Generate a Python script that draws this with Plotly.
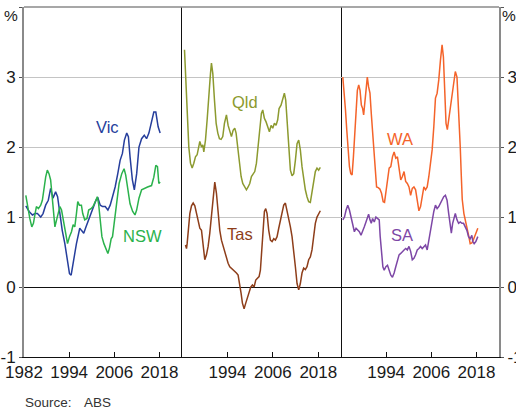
import plotly.graph_objects as go

# ---------------- data (annual growth, %) ----------------
vic_years = [1982.48,1983.36,1984.24,1984.95,1985.56,1986.44,1987.06,1987.76,1988.46,1989.08,
             1989.70,1990.40,1990.93,1991.46,1992.16,1992.86,1993.48,1994.09,1994.53,1994.97,
             1995.50,1995.94,1996.38,1996.82,1997.26,1997.88,1998.49,1999.19,1999.90,2000.51,
             2001.13,2001.66,2002.27,2002.89,2003.59,2004.30,2004.91,2005.53,2006.23,2006.93,
             2007.55,2008.16,2008.69,2009.31,2009.75,2010.19,2010.81,2011.33,2011.95,2012.56,
             2013.26,2013.97,2014.58,2015.20,2015.90,2016.51,2017.04,2017.66,2018.19]
vic_vals = [1.16,1.08,1.03,1.05,1.05,1.0,1.05,1.17,1.24,1.41,
            1.27,1.36,1.29,1.05,0.81,0.62,0.39,0.19,0.17,0.29,
            0.48,0.62,0.72,0.84,0.81,0.77,0.86,0.96,1.05,1.15,
            1.24,1.27,1.17,1.15,1.15,1.10,1.17,1.29,1.43,1.62,
            1.81,1.91,2.10,2.20,2.15,1.86,1.53,1.39,1.62,2.0,
            2.12,2.17,2.12,2.20,2.34,2.50,2.50,2.29,2.20]

nsw_years = [1982.48,1982.92,1983.54,1984.07,1984.51,1984.95,1985.30,1985.83,1986.44,1986.88,
             1987.32,1987.76,1988.20,1988.64,1989.08,1989.52,1989.96,1990.22,1990.66,1991.10,
             1991.54,1991.98,1992.60,1993.04,1993.57,1994.09,1994.62,1995.06,1995.50,1995.94,
             1996.29,1996.73,1997.26,1997.61,1998.14,1998.75,1999.19,1999.81,2000.34,2000.95,
             2001.48,2001.83,2002.27,2002.71,2003.24,2003.77,2004.30,2004.73,2005.17,2005.53,
             2006.05,2006.67,2007.28,2007.99,2008.60,2009.04,2009.57,2010.19,2010.89,2011.50,
             2011.94,2012.56,2013.26,2013.96,2014.84,2015.90,2016.51,2017.04,2017.48,2017.84,2018.19]
nsw_vals = [1.31,1.15,0.98,0.86,0.91,1.05,1.15,1.12,1.17,1.24,
            1.43,1.57,1.67,1.62,1.53,1.29,1.0,0.86,0.96,1.08,
            1.15,1.10,0.91,0.77,0.62,0.72,0.79,0.89,0.86,1.05,
            1.22,1.17,1.17,1.05,0.96,0.98,1.10,1.12,1.15,1.22,
            1.29,1.19,0.96,0.72,0.62,0.56,0.48,0.56,0.69,0.72,
            0.96,1.24,1.48,1.62,1.69,1.60,1.39,1.19,1.08,1.03,
            1.10,1.27,1.39,1.41,1.43,1.45,1.57,1.74,1.72,1.48,1.50]

qld_years = [1982.66,1983.01,1983.36,1983.80,1984.24,1984.68,1985.12,1985.56,1986.00,1986.44,
             1986.71,1987.15,1987.50,1987.76,1988.20,1988.64,1989.08,1989.52,1989.78,1990.14,
             1990.58,1991.02,1991.46,1991.89,1992.33,1992.77,1993.21,1993.74,1994.18,1994.62,
             1995.06,1995.50,1995.94,1996.29,1996.73,1997.17,1997.61,1998.05,1998.49,1999.02,
             1999.46,1999.90,2000.34,2000.78,2001.22,2001.66,2002.10,2002.53,2002.97,2003.33,
             2003.77,2004.21,2004.65,2005.09,2005.53,2005.97,2006.41,2006.85,2007.28,2007.64,
             2008.16,2008.61,2009.04,2009.40,2009.75,2010.19,2010.63,2011.07,2011.51,2011.95,
             2012.39,2012.83,2013.26,2013.70,2014.14,2014.58,2015.02,2015.46,2015.90,2016.34,
             2016.78,2017.22,2017.66,2018.10,2018.54]
qld_vals = [3.39,3.0,2.48,2.0,1.77,1.70,1.77,1.86,1.89,2.0,
            2.08,2.0,2.03,1.93,2.10,2.39,2.77,3.05,3.20,3.05,
            2.67,2.34,2.20,2.12,2.11,2.15,2.34,2.46,2.31,2.24,
            2.15,2.24,2.27,2.20,2.0,1.77,1.58,1.48,1.43,1.39,
            1.43,1.48,1.58,1.62,1.65,1.77,2.0,2.29,2.48,2.53,
            2.41,2.36,2.29,2.22,2.31,2.27,2.34,2.31,2.39,2.55,
            2.60,2.70,2.77,2.67,2.39,1.96,1.67,1.59,1.62,1.81,
            2.05,2.10,1.96,1.72,1.53,1.39,1.29,1.22,1.21,1.34,
            1.53,1.65,1.70,1.67,1.71]

tas_years = [1982.92,1983.19,1983.36,1983.71,1984.07,1984.51,1984.95,1985.39,1985.83,1986.27,
             1986.71,1987.15,1987.58,1988.02,1988.46,1988.90,1989.34,1989.78,1990.22,1990.66,
             1991.10,1991.54,1991.98,1992.42,1992.86,1993.30,1993.74,1994.18,1994.62,1995.06,
             1995.50,1995.94,1996.38,1996.82,1997.26,1997.61,1997.96,1998.40,1998.84,1999.28,
             1999.72,2000.16,2000.60,2001.04,2001.48,2001.92,2002.36,2002.71,2003.06,2003.42,
             2003.77,2004.12,2004.47,2004.91,2005.35,2005.79,2006.23,2006.67,2007.11,2007.55,
             2007.99,2008.43,2008.87,2009.31,2009.75,2010.19,2010.63,2011.07,2011.51,2011.95,
             2012.39,2012.83,2013.26,2013.70,2014.14,2014.58,2015.02,2015.46,2015.90,2016.34,
             2016.78,2017.22,2017.66,2018.10,2018.54]
tas_vals = [0.60,0.55,0.62,0.86,1.05,1.16,1.20,1.16,1.05,0.96,
            0.84,0.81,0.58,0.39,0.46,0.58,0.77,1.0,1.29,1.50,
            1.34,1.05,0.81,0.67,0.58,0.53,0.41,0.34,0.29,0.27,
            0.24,0.22,0.20,0.17,0.05,-0.09,-0.23,-0.31,-0.23,-0.14,
            -0.07,0.0,0.03,0.0,0.10,0.12,0.15,0.24,0.48,0.81,
            1.08,1.12,1.05,0.81,0.67,0.65,0.69,0.67,0.72,0.84,
            0.96,1.10,1.17,1.20,1.10,0.96,0.86,0.72,0.53,0.29,
            0.05,-0.04,0.05,0.20,0.27,0.25,0.29,0.39,0.43,0.53,
            0.72,0.91,1.0,1.05,1.09]

wa_years = [1982.48,1982.84,1983.19,1983.54,1983.89,1984.24,1984.59,1984.95,1985.30,1985.65,
            1986.00,1986.35,1986.71,1987.06,1987.41,1987.76,1988.02,1988.29,1988.64,1988.99,
            1989.34,1989.70,1990.05,1990.40,1990.75,1991.10,1991.46,1991.89,1992.33,1992.77,
            1993.21,1993.57,1993.92,1994.36,1994.80,1995.24,1995.68,1996.12,1996.56,1997.00,
            1997.44,1997.88,1998.32,1998.76,1999.19,1999.63,2000.07,2000.51,2000.95,2001.39,
            2001.83,2002.27,2002.71,2003.15,2003.59,2004.03,2004.47,2004.91,2005.35,2005.79,
            2006.23,2006.67,2007.11,2007.55,2007.99,2008.43,2008.87,2009.22,2009.57,2009.92,
            2010.27,2010.63,2011.07,2011.51,2011.95,2012.39,2012.83,2013.26,2013.70,2013.97,
            2014.23,2014.67,2015.11,2015.55,2015.99,2016.34,2016.78,2017.22,2017.66,2018.01,2018.37]
wa_vals = [3.0,2.81,2.53,2.24,1.96,1.72,1.62,1.60,1.86,2.20,
           2.58,2.81,2.89,2.81,2.60,2.55,2.46,2.60,2.77,3.0,
           2.86,2.77,2.48,2.24,1.96,1.67,1.43,1.42,1.40,1.34,
           1.22,1.21,1.34,1.53,1.70,1.72,1.86,1.93,1.84,1.86,
           1.67,1.53,1.58,1.65,1.51,1.48,1.43,1.31,1.41,1.43,
           1.39,1.20,1.09,1.15,1.29,1.43,1.39,1.43,1.58,1.77,
           1.96,2.29,2.70,2.77,2.96,3.24,3.46,3.29,2.77,2.34,
           2.25,2.39,2.62,2.77,2.96,3.08,3.0,2.58,2.0,1.6,
           1.25,1.05,0.95,0.85,0.72,0.62,0.63,0.68,0.74,0.79,0.84]

sa_years = [1982.48,1982.92,1983.36,1983.80,1984.24,1984.68,1985.12,1985.56,1986.00,1986.44,
            1986.88,1987.32,1987.76,1988.20,1988.64,1989.08,1989.34,1989.70,1990.05,1990.40,
            1990.84,1991.28,1991.72,1992.16,1992.42,1992.77,1993.13,1993.48,1993.92,1994.36,
            1994.80,1995.24,1995.68,1996.12,1996.56,1997.00,1997.44,1997.88,1998.32,1998.76,
            1999.19,1999.63,2000.07,2000.51,2000.95,2001.39,2001.83,2002.27,2002.71,2003.15,
            2003.59,2004.03,2004.47,2004.91,2005.35,2005.79,2006.23,2006.67,2007.11,2007.55,
            2007.99,2008.43,2008.87,2009.31,2009.75,2010.19,2010.63,2011.07,2011.33,2011.68,
            2012.12,2012.39,2012.83,2013.26,2013.70,2014.14,2014.58,2015.02,2015.46,2015.90,
            2016.34,2016.78,2017.04,2017.39,2017.84,2018.37]
sa_vals = [0.96,1.0,1.10,1.17,1.10,1.0,0.91,0.79,0.84,0.81,
           0.79,0.74,0.79,0.86,0.93,1.0,1.04,0.96,0.91,0.98,
           0.93,1.0,0.98,0.96,0.72,0.48,0.29,0.24,0.29,0.31,
           0.24,0.17,0.14,0.20,0.29,0.39,0.46,0.48,0.51,0.53,
           0.55,0.53,0.58,0.51,0.39,0.41,0.46,0.53,0.55,0.58,
           0.55,0.58,0.60,0.53,0.67,0.81,0.96,1.08,1.17,1.12,
           1.15,1.20,1.24,1.29,1.31,1.24,1.05,0.86,0.77,0.91,
           1.03,1.05,0.96,0.91,0.93,0.91,0.91,0.86,0.81,0.72,
           0.69,0.74,0.65,0.62,0.65,0.72]

y_tickvals = [-1, 0, 1, 2, 3, 4]
y_ticktext = ["-1", "0", "1", "2", "3", ""]
unit_label = "%"
x_ticks_first = [1982, 1994, 2006, 2018]
x_ticks_other = [1994, 2006, 2018]

# ---------------- styling ----------------
FONT = "Liberation Sans, Arial, sans-serif"
TXT = "#1a1a1a"
C = {
    "Vic": "#263e9c", "NSW": "#2bb24c", "Qld": "#8c9a2f",
    "Tas": "#8e3e1a", "WA": "#f4632a", "SA": "#7d47a6",
}

series = [
    ("Vic", vic_years, vic_vals, "x", "y"),
    ("NSW", nsw_years, nsw_vals, "x", "y"),
    ("Qld", qld_years, qld_vals, "x2", "y2"),
    ("Tas", tas_years, tas_vals, "x2", "y2"),
    ("WA", wa_years, wa_vals, "x3", "y3"),
    ("SA", sa_years, sa_vals, "x3", "y3"),
]

fig = go.Figure()
for name, xs, ys, xa, ya in series:
    fig.add_trace(go.Scatter(x=xs, y=ys, mode="lines", name=name,
                             line=dict(color=C[name], width=1.5),
                             xaxis=xa, yaxis=ya, hoverinfo="skip"))

labels = [
    ("Vic", 2004.2, 2.29, "x", "y"),
    ("NSW", 2013.5, 0.73, "x", "y"),
    ("Qld", 1998.7, 2.65, "x2", "y2"),
    ("Tas", 1997.3, 0.76, "x2", "y2"),
    ("WA", 1997.6, 2.12, "x3", "y3"),
    ("SA", 1998.2, 0.74, "x3", "y3"),
]
annotations = []
for name, lx, ly, xa, ya in labels:
    annotations.append(dict(text=name, x=lx, y=ly, xref=xa, yref=ya, showarrow=False,
                            font=dict(family=FONT, size=16.5, color=C[name]),
                            xanchor="center", yanchor="middle"))
# unit labels at the top of both value axes
annotations.append(dict(text=unit_label, x=-0.008, y=0.976, xref="paper", yref="paper",
                        showarrow=False, xanchor="right", yanchor="middle",
                        font=dict(family=FONT, size=15.5, color=TXT)))
annotations.append(dict(text=unit_label, x=1.003, y=0.976, xref="paper", yref="paper",
                        showarrow=False, xanchor="left", yanchor="middle",
                        font=dict(family=FONT, size=15.5, color=TXT)))
annotations.append(dict(text="Source:", x=-0.002, y=-0.131, xref="paper", yref="paper",
                        showarrow=False, xanchor="left", yanchor="middle",
                        font=dict(family=FONT, size=13.5, color="#333333")))
annotations.append(dict(text="ABS", x=0.1221, y=-0.131, xref="paper", yref="paper",
                        showarrow=False, xanchor="left", yanchor="middle",
                        font=dict(family=FONT, size=13.5, color="#333333")))

d1, d2 = 158 / 475, 317 / 475
xcommon = dict(range=[1982, 2024], showgrid=False, zeroline=False, showline=True,
               linecolor="#111111", linewidth=1, ticks="inside", ticklen=5,
               tickcolor="#111111", tickwidth=1, automargin=False,
               tickfont=dict(family=FONT, size=17, color=TXT))
ycommon = dict(range=[-1, 4.002], tickvals=y_tickvals, ticktext=y_ticktext,
               showgrid=True, gridcolor="#c4c4c4", gridwidth=1, automargin=False,
               zeroline=True, zerolinecolor="#111111", zerolinewidth=1.2,
               tickfont=dict(family=FONT, size=17, color=TXT))

fig.update_layout(
    template="none",
    width=516, height=413,
    margin=dict(l=24, r=17, t=7, b=56, autoexpand=False),
    paper_bgcolor="white", plot_bgcolor="white",
    showlegend=False, hovermode=False,
    xaxis=dict(domain=[0, d1], anchor="y", tickvals=x_ticks_first, **xcommon),
    xaxis2=dict(domain=[d1, d2], anchor="y2", tickvals=x_ticks_other, **xcommon),
    xaxis3=dict(domain=[d2, 1], anchor="y3", tickvals=x_ticks_other, **xcommon),
    yaxis=dict(anchor="x", side="left", showline=True, linecolor="#8a8a8a", linewidth=2,
               ticks="outside", ticklen=3, tickcolor="#555555", **ycommon),
    yaxis2=dict(anchor="x2", showline=True, linecolor="#111111", linewidth=1, mirror=True,
                showticklabels=False, ticks="", **ycommon),
    yaxis3=dict(anchor="x3", side="right", showline=True, linecolor="#8a8a8a", linewidth=2,
                ticks="outside", ticklen=3, tickcolor="#555555", **ycommon),
    annotations=annotations,
    shapes=[dict(type="line", xref="paper", yref="paper", x0=0, x1=1, y0=1, y1=1,
                 line=dict(color="#8a8a8a", width=1.5))],
)

fig.write_html("out.html", config={"displayModeBar": False},
               post_script="document.body.style.margin='0px';document.body.style.overflow='hidden';")
